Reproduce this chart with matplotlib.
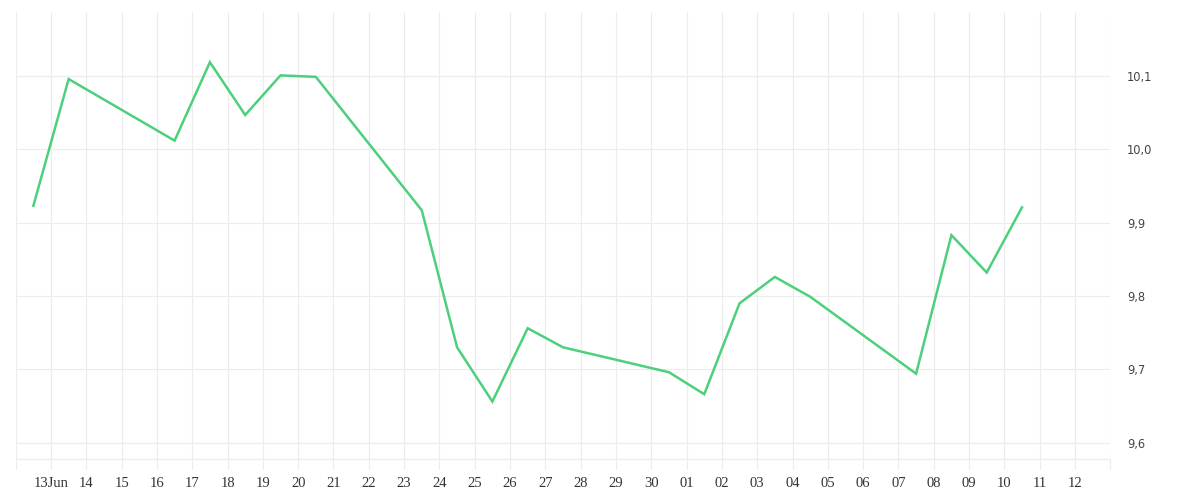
import matplotlib
matplotlib.use("Agg")
import matplotlib.pyplot as plt
import matplotlib.dates as mdates
import numpy as np
from datetime import datetime, timedelta

dates = ["2025-06-12", "2025-06-13", "2025-06-16", "2025-06-17", "2025-06-18",
         "2025-06-19", "2025-06-20", "2025-06-23", "2025-06-24", "2025-06-25",
         "2025-06-26", "2025-06-27", "2025-06-30", "2025-07-01", "2025-07-02",
         "2025-07-03", "2025-07-04", "2025-07-07", "2025-07-08", "2025-07-09",
         "2025-07-10"]
values = [9.923, 10.096, 10.012, 10.119, 10.047,
          10.101, 10.099, 9.917, 9.730, 9.656,
          9.756, 9.730, 9.696, 9.666, 9.790,
          9.826, 9.799, 9.694, 9.883, 9.832,
          9.921]
y_ticks = [9.6, 9.7, 9.8, 9.9, 10.0, 10.1]

grid_c = "#ececec"
line_c = "#4dd07b"

x = [datetime.strptime(d, "%Y-%m-%d") + timedelta(hours=12) for d in dates]

fig = plt.figure(figsize=(12, 5), dpi=100)
ax = fig.add_axes([15.7 / 1200, 1 - 458.7 / 500, (1110.3 - 15.7) / 1200, (458.7 - 12) / 500])

ax.plot(x, values, color=line_c, lw=1.8, solid_joinstyle="miter", zorder=3)

start = datetime(2025, 6, 12)
end = datetime(2025, 7, 13)
ax.set_xlim(start, end)
ax.set_ylim(9.578, 10.1875)

day_ticks = [start + timedelta(days=i) for i in range((end - start).days + 1)]
labels = []
for d in day_ticks:
    if d == start or d == end:
        labels.append("")
    elif d.day == 13 and d.month == 6:
        labels.append(d.strftime("%d") + "Jun")
    else:
        labels.append(d.strftime("%d"))
ax.set_xticks(day_ticks)
ax.set_xticklabels(labels, fontfamily="Liberation Serif", fontsize=10.5, color="#333333")
ax.tick_params(axis="x", length=7.2, width=0.8, color=grid_c, direction="out", pad=6)

ax.yaxis.tick_right()
ax.set_yticks(y_ticks)
ax.set_yticklabels([f"{v:.1f}".replace(".", ",") for v in y_ticks],
                   fontfamily="DejaVu Sans", fontsize=8.3, color="#444444")
ax.tick_params(axis="y", length=0, pad=12)

ax.grid(True, color=grid_c, lw=0.8, zorder=0)
for s in ["top", "left", "right"]:
    ax.spines[s].set_visible(False)
ax.spines["bottom"].set_color(grid_c)
ax.spines["bottom"].set_linewidth(0.8)

fig.savefig("out.png", dpi=100, facecolor="white")
